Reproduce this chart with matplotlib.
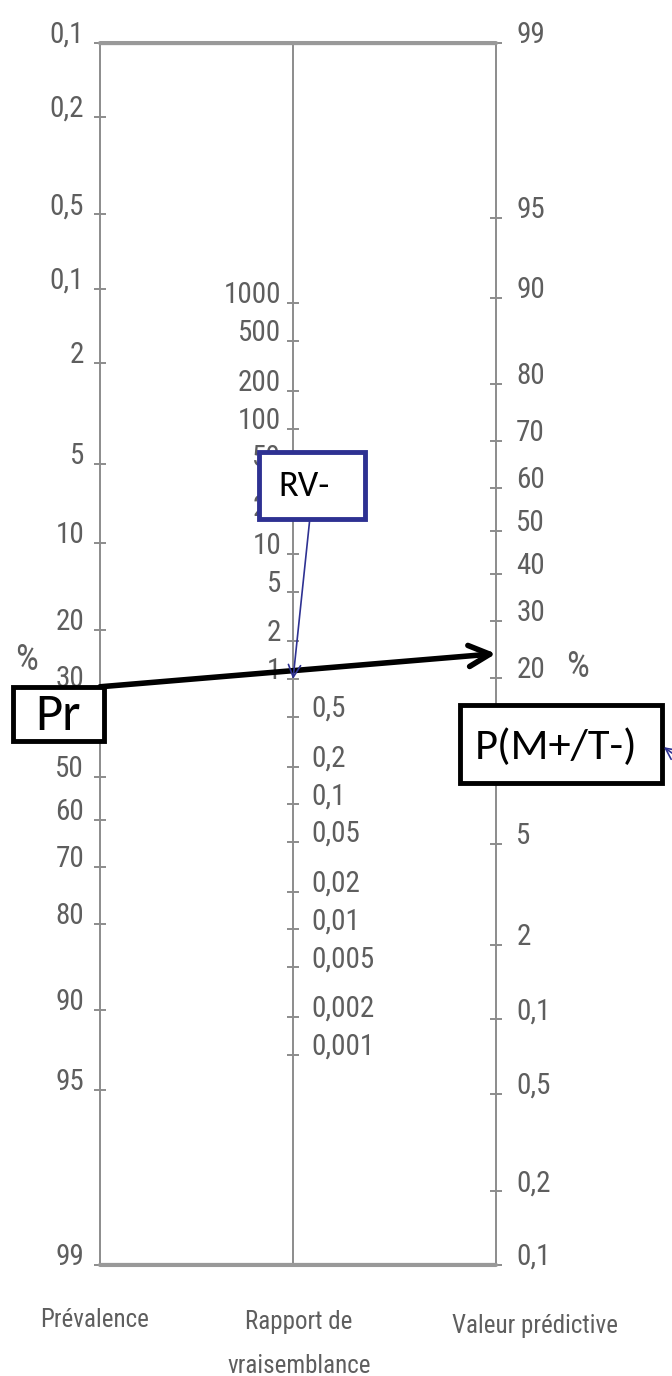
import matplotlib
matplotlib.use("Agg")
import matplotlib.pyplot as plt
from matplotlib.patches import ConnectionPatch, Rectangle
from matplotlib.ticker import NullLocator

# police etroite comme sur le scan, sinon Liberation/DejaVu
NARROW = ['Roboto Condensed', 'Archivo Narrow', 'Liberation Sans Narrow', 'Liberation Sans', 'DejaVu Sans']
BOXFONT = ['Carlito', 'Liberation Sans', 'DejaVu Sans']
plt.rcParams['font.family'] = NARROW

# nomogramme de Fagan (valeurs en %)
prev_vals = [0.1, 0.2, 0.5, 1, 2, 5, 10, 20, 30, 40, 50, 60, 70, 80, 90, 95, 99]
prev_labels = ["0,1", "0,2", "0,5", "0,1", "2", "5", "10", "20", "30", "40",
               "50", "60", "70", "80", "90", "95", "99"]

rv_high = [1000, 500, 200, 100, 50, 20, 10, 5, 2, 1]
rv_high_labels = ["1000", "500", "200", "100", "50", "20", "10", "5", "2", "1"]
rv_low = [0.5, 0.2, 0.1, 0.05, 0.02, 0.01, 0.005, 0.002, 0.001]
rv_low_labels = ["0,5", "0,2", "0,1", "0,05", "0,02", "0,01", "0,005", "0,002", "0,001"]

vp_vals = [99, 95, 90, 80, 70, 60, 50, 40, 30, 20, 10, 5, 2, 1, 0.5, 0.2, 0.1]
vp_labels = ["99", "95", "90", "80", "70", "60", "50", "40", "30", "20", "10",
             "5", "2", "0,1", "0,5", "0,2", "0,1"]

# exemple trace
pr_value = 30      # prevalence (%)
rv_value = 1       # rapport de vraisemblance
post_value = 24    # valeur predictive (%)

AXC = '#8c8c8c'
TXT = '#5e5e5e'
BLUE = '#2e3192'
TICKFS = 21

fig = plt.figure(figsize=(6.72, 13.76), dpi=100)
Y0, H = 0.0807, 0.888


def style_ticks(ax, vals, labels, pad):
    ax.set_yticks(vals, labels, fontsize=TICKFS, color=TXT)
    ax.yaxis.set_minor_locator(NullLocator())
    ax.tick_params(axis='y', which='major', direction='inout', length=9,
                   width=1.4, color=AXC, pad=pad)
    plt.setp(ax.get_yticklabels(), va='baseline')


def nomo_axis(x, side, scale, lims, vals, labels, pad):
    ax = fig.add_axes([x, Y0, 1e-4, H])
    ax.patch.set_visible(False)
    for s in ax.spines.values():
        s.set_visible(False)
    ax.spines[side].set_visible(True)
    ax.spines[side].set_color(AXC)
    ax.spines[side].set_linewidth(1.4)
    ax.set_xticks([])
    ax.set_yscale(scale)
    ax.set_ylim(*lims)
    if side == 'right':
        ax.yaxis.tick_right()
    style_ticks(ax, vals, labels, pad)
    return ax


ax_l = nomo_axis(0.1488, 'left', 'logit', (0.99, 0.001),
                 [v / 100 for v in prev_vals], prev_labels, 7)
ax_m = nomo_axis(0.436, 'left', 'log', (10 ** -4.68, 10 ** 5.08),
                 rv_high, rv_high_labels, 4)
ax_m2 = ax_m.twinx()
ax_m2.set_position(ax_m.get_position())
ax_m2.patch.set_visible(False)
for s in ax_m2.spines.values():
    s.set_visible(False)
ax_m2.set_yscale('log')
ax_m2.set_ylim(10 ** -4.68, 10 ** 5.08)
style_ticks(ax_m2, rv_low, rv_low_labels, 9)
ax_r = nomo_axis(0.738, 'right', 'logit', (0.001, 0.99),
                 [v / 100 for v in vp_vals], vp_labels, 10)

# cadre haut / bas
for a, b in [(0.001, 0.99), (0.99, 0.001)]:
    line = ConnectionPatch(xyA=(0.5, a), coordsA=ax_l.transData,
                           xyB=(0.5, b), coordsB=ax_r.transData,
                           color='#999999', lw=3)
    fig.add_artist(line)

# droite Pr -> valeur predictive
arrow = ConnectionPatch(xyA=(0.5, pr_value / 100), coordsA=ax_l.transData,
                        xyB=(0.5, post_value / 100), coordsB=ax_r.transData,
                        arrowstyle='->', mutation_scale=38, lw=4, color='black',
                        zorder=2)
fig.add_artist(arrow)

# boites
boxes = [((0.0193, 0.4615), 0.1354, 0.0392, 'black', 'Pr', (0.086, 0.4797), 38),
         ((0.3854, 0.6228), 0.1577, 0.0487, BLUE, 'RV-', (0.4524, 0.6468), 26),
         ((0.6845, 0.4310), 0.3006, 0.0567, 'black', 'P(M+/T-)', (0.8274, 0.4570), 32)]
for (x0, y0), w, h, ec, txt, (tx, ty), fs in boxes:
    fig.add_artist(Rectangle((x0, y0), w, h, transform=fig.transFigure,
                             facecolor='white', edgecolor=ec, lw=3.5, zorder=3))
    fig.text(tx, ty, txt, fontsize=fs, ha='center', va='center', zorder=4,
             family=BOXFONT)

# fleche RV- vers le rapport de vraisemblance
rv_arrow = ConnectionPatch(xyA=(0.461, 0.6228), coordsA=fig.transFigure,
                           xyB=(0.5, rv_value), coordsB=ax_m.transData,
                           arrowstyle='->', mutation_scale=22, lw=1.2,
                           color=BLUE, zorder=2)
fig.add_artist(rv_arrow)

# petite fleche bleue a droite
fig.add_artist(ConnectionPatch(xyA=(1.05, 0.435), coordsA=fig.transFigure,
                               xyB=(0.988, 0.457), coordsB=fig.transFigure,
                               arrowstyle='->', mutation_scale=20, lw=1.2,
                               color=BLUE, zorder=5))

fig.text(0.040, 0.520, '%', fontsize=26, color=TXT, ha='center', va='center')
fig.text(0.859, 0.515, '%', fontsize=26, color=TXT, ha='center', va='center')

fig.text(0.141, 0.0407, 'Prévalence', fontsize=18, color=TXT, ha='center', va='center')
fig.text(0.445, 0.0392, 'Rapport de', fontsize=18, color=TXT, ha='center', va='center')
fig.text(0.445, 0.0070, 'vraisemblance', fontsize=18, color=TXT, ha='center', va='center')
fig.text(0.796, 0.0363, 'Valeur prédictive', fontsize=18, color=TXT, ha='center', va='center')

fig.savefig('out.png', dpi=100)
